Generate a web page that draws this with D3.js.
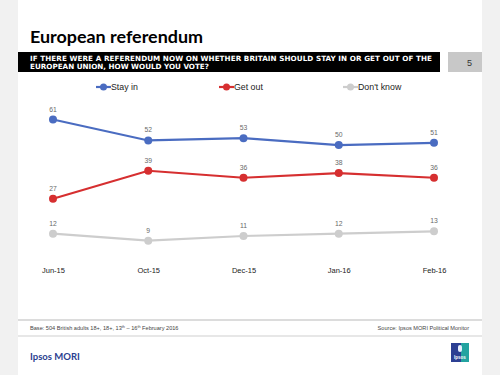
<!DOCTYPE html>
<html>
<head>
<meta charset="utf-8">
<script src="https://cdn.jsdelivr.net/npm/d3@7"></script>
<style>
  body { margin: 0; background: #f1f1f1; }
  svg { display: block; }
</style>
</head>
<body>
<div id="chart"></div>
<script>
"use strict";

// chart data
const months = ["Jun-15", "Oct-15", "Dec-15", "Jan-16", "Feb-16"];
const stayIn = [61, 52, 53, 50, 51];
const getOut = [27, 39, 36, 38, 36];
const dontKnow = [12, 9, 11, 12, 13];
const seriesNames = ["Stay in", "Get out", "Don't know"];
const seriesColors = ["#4a6cc1", "#d62f30", "#cdcdcd"];

const msm = {
    width: 500,
    height: 375,
    pageLeft: 18,
    pageRight: 482
}

let svg = d3.select("#chart")
    .append("svg")
    .attr("width", msm.width)
    .attr("height", msm.height);

// white page area
svg.append("rect")
    .attr("x", msm.pageLeft)
    .attr("y", 0)
    .attr("width", msm.pageRight - msm.pageLeft)
    .attr("height", msm.height)
    .attr("fill", "#ffffff");

// title
svg.append("text")
    .attr("x", 30)
    .attr("y", 43)
    .style("font-family", "Lato, 'DejaVu Sans', sans-serif")
    .style("font-weight", "bold")
    .style("font-size", "17px")
    .attr("textLength", 173)
    .attr("lengthAdjust", "spacingAndGlyphs")
    .attr("fill", "#000")
    .text("European referendum");

// question bar
svg.append("rect")
    .attr("x", 18).attr("y", 52)
    .attr("width", 422).attr("height", 20)
    .attr("fill", "#000");

let qLines = ["IF THERE WERE A REFERENDUM NOW ON WHETHER BRITAIN SHOULD STAY IN OR GET OUT OF THE",
    "EUROPEAN UNION, HOW WOULD YOU VOTE?"];
svg.selectAll(".qline")
    .data(qLines)
    .enter()
    .append("text")
    .attr("class", "qline")
    .attr("x", 30)
    .attr("y", (d, i) => 61 + i * 8)
    .style("font-family", "'DejaVu Sans', sans-serif")
    .style("font-weight", "bold")
    .style("font-size", "7.2px")
    .attr("fill", "#fff")
    .attr("textLength", (d, i) => i == 0 ? 402 : null)
    .text(d => d);

// page number box
svg.append("rect")
    .attr("x", 448).attr("y", 52)
    .attr("width", 34).attr("height", 20)
    .attr("fill", "#c8c8c8");
svg.append("text")
    .attr("x", 472).attr("y", 66)
    .attr("text-anchor", "end")
    .style("font-family", "'Liberation Sans', Arial, sans-serif")
    .style("font-size", "9px")
    .attr("fill", "#333")
    .text("5");

// scales
let xScale = d3.scalePoint()
    .domain(months)
    .range([53, 434]);

let yScale = d3.scaleLinear()
    .domain([0, 61])
    .range([261.6, 119.5]);

// x axis (labels only)
let xAxis = d3.axisBottom(xScale).tickSize(0).tickPadding(0);
let xg = svg.append("g")
    .attr("transform", "translate(0, 268)")
    .call(xAxis);
xg.select(".domain").remove();
xg.selectAll("text")
    .style("font-family", "'Liberation Sans', Arial, sans-serif")
    .style("font-size", "7.5px")
    .attr("fill", "#222");

let seriesData = [stayIn, getOut, dontKnow];

let line = d3.line()
    .x((d, i) => xScale(months[i]))
    .y(d => yScale(d));

// draw series (gray first so colors sit on top)
[2, 1, 0].forEach(function (s) {
    let vals = seriesData[s];
    let g = svg.append("g");
    g.append("path")
        .datum(vals)
        .attr("d", line)
        .attr("fill", "none")
        .attr("stroke", seriesColors[s])
        .attr("stroke-width", 2.2);
    g.selectAll("circle")
        .data(vals)
        .enter()
        .append("circle")
        .attr("cx", (d, i) => xScale(months[i]))
        .attr("cy", d => yScale(d))
        .attr("r", 4)
        .attr("fill", seriesColors[s]);
    g.selectAll("text")
        .data(vals)
        .enter()
        .append("text")
        .attr("x", (d, i) => xScale(months[i]))
        .attr("y", d => yScale(d) - 8)
        .attr("text-anchor", "middle")
        .style("font-family", "'Liberation Sans', Arial, sans-serif")
        .style("font-size", "6.8px")
        .attr("fill", "#6a6a6a")
        .text(d => d);
});

// legend
let legendX = [96, 219, 343];
let legend = svg.selectAll(".legend")
    .data(seriesNames)
    .enter()
    .append("g")
    .attr("class", "legend")
    .attr("transform", (d, i) => "translate(" + legendX[i] + ", 87)");

legend.append("line")
    .attr("x1", 0).attr("x2", 15)
    .attr("y1", 0).attr("y2", 0)
    .attr("stroke", (d, i) => seriesColors[i])
    .attr("stroke-width", 2.2);
legend.append("circle")
    .attr("cx", 7.5).attr("cy", 0).attr("r", 3.5)
    .attr("fill", (d, i) => seriesColors[i]);
legend.append("text")
    .attr("x", 15)
    .attr("y", 3.2)
    .style("font-family", "'Liberation Sans', Arial, sans-serif")
    .style("font-size", "8.8px")
    .attr("fill", "#222")
    .text(d => d);

// footer lines
svg.append("rect")
    .attr("x", 18).attr("y", 319)
    .attr("width", 464).attr("height", 2)
    .attr("fill", "#dcdcdc");
svg.append("rect")
    .attr("x", 18).attr("y", 335.5)
    .attr("width", 464).attr("height", 1)
    .attr("fill", "#cfcfcf");

let base = svg.append("text")
    .attr("x", 30).attr("y", 330)
    .style("font-family", "'Liberation Sans', Arial, sans-serif")
    .style("font-size", "5.6px")
    .attr("fill", "#444");
base.append("tspan").text("Base: 504  British adults 18+, 18+, 13");
base.append("tspan").attr("dy", -1.6).style("font-size", "3.8px").text("th");
base.append("tspan").attr("dy", 1.6).text(" \u2013 16");
base.append("tspan").attr("dy", -1.6).style("font-size", "3.8px").text("th");
base.append("tspan").attr("dy", 1.6).text("  February 2016");

svg.append("text")
    .attr("x", 469).attr("y", 330)
    .attr("text-anchor", "end")
    .style("font-family", "'Liberation Sans', Arial, sans-serif")
    .style("font-size", "5.6px")
    .attr("fill", "#444")
    .text("Source: Ipsos MORI Political Monitor");

// Ipsos MORI
svg.append("text")
    .attr("x", 30).attr("y", 360)
    .style("font-family", "Lato, 'DejaVu Sans', sans-serif")
    .style("font-weight", "bold")
    .style("font-size", "9.5px")
    .attr("fill", "#2b4190")
    .text("Ipsos MORI");

// logo
let logo = svg.append("g").attr("transform", "translate(451, 343)");
logo.append("rect").attr("width", 18).attr("height", 19).attr("fill", "#23a3a0");
logo.append("rect").attr("width", 10).attr("height", 19).attr("fill", "#2c3f93");
logo.append("rect").attr("x", 7).attr("y", 2).attr("width", 4).attr("height", 7).attr("rx", 2).attr("fill", "#e8f0ff");
logo.append("text")
    .attr("x", 9).attr("y", 16)
    .attr("text-anchor", "middle")
    .style("font-family", "'Liberation Sans', Arial, sans-serif")
    .style("font-size", "4.5px")
    .style("font-weight", "bold")
    .attr("fill", "#fff")
    .text("Ipsos");
</script>
</body>
</html>
